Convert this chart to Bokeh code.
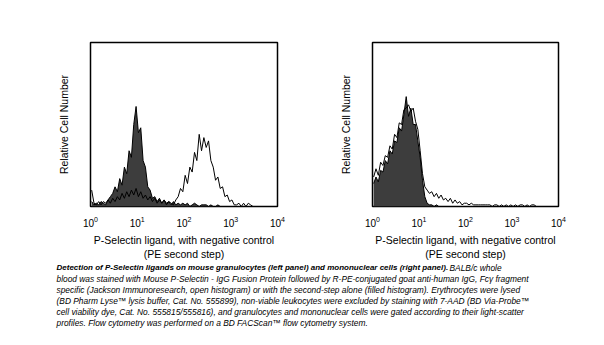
from bokeh.plotting import figure
from bokeh.layouts import column, row
from bokeh.models import Range1d, FixedTicker
from bokeh.core.properties import value
from bokeh.embed import file_html
from bokeh.resources import INLINE
import numpy as np

FONT = "Liberation Sans"

# log10 channel centres (0.05-decade bins over 10^0 .. 10^4)
log_channels = np.arange(80) * 0.05 + 0.025

# Left panel: granulocytes
left_filled = [3, 1, 2, 1, 3, 2, 1, 4, 6, 8,
               12, 9, 17, 13, 24, 20, 34, 30, 50, 61,
               45, 48, 28, 24, 12, 10, 5, 6, 3, 5,
               2, 4, 2, 3, 1, 3, 1, 2, 1, 2,
               1, 2, 0, 1, 2, 1, 0, 1, 1, 1,
               0, 1, 0, 0, 1, 0, 0, 0, 0, 0,
               0, 0, 0, 0, 0, 0, 0, 0, 0, 0,
               0, 0, 0, 0, 0, 0, 0, 0, 0, 0]
left_open = [10, 2, 1, 3, 1, 3, 2, 4, 2, 5,
             3, 6, 4, 8, 5, 9, 6, 10, 7, 11,
             6, 9, 5, 7, 4, 6, 3, 5, 2, 4,
             2, 4, 1, 3, 2, 1, 4, 6, 11, 9,
             19, 14, 24, 21, 33, 28, 44, 34, 42, 36,
             40, 28, 24, 16, 18, 11, 12, 6, 7, 3,
             4, 1, 1, 2, 0, 2, 0, 2, 1, 0,
             0, 0, 0, 0, 0, 0, 0, 0, 0, 0]

# Right panel: mononuclear cells
right_filled = [14, 18, 15, 22, 21, 28, 26, 34, 32, 40,
                39, 48, 46, 56, 67, 55, 60, 50, 50, 40,
                30, 16, 6, 2, 1, 1, 0, 1, 0, 0,
                0, 0, 0, 0, 0, 0, 0, 0, 0, 0,
                0, 0, 0, 0, 0, 0, 0, 0, 0, 0,
                0, 0, 0, 0, 0, 0, 0, 0, 0, 0,
                0, 0, 0, 0, 0, 0, 0, 0, 0, 0,
                0, 0, 0, 0, 0, 0, 0, 0, 0, 0]
right_open = [18, 23, 19, 27, 25, 31, 30, 37, 35, 44,
              42, 51, 50, 59, 60, 62, 58, 60, 52, 47,
              34, 20, 12, 10, 8, 9, 6, 8, 5, 7,
              4, 5, 3, 5, 2, 4, 2, 3, 1, 2,
              2, 1, 2, 1, 1, 1, 1, 1, 1, 1,
              1, 0, 1, 1, 0, 1, 0, 1, 0, 1,
              0, 1, 0, 1, 1, 0, 1, 0, 1, 1,
              0, 0, 0, 0, 0, 0, 0, 0, 0, 0]

tick_values = [1, 10, 100, 1000, 10000]

x_label = "P-Selectin ligand, with negative control\n(PE second step)"
y_label = "Relative Cell Number"

caption_bold = "Detection of P-Selectin ligands on mouse granulocytes (left panel) and mononuclear cells (right panel)."
caption_first_rest = "BALB/c whole"
caption_lines = [
    "blood was stained with Mouse P-Selectin - IgG Fusion Protein followed by R-PE-conjugated goat anti-human IgG, Fc\u03b3 fragment",
    "specific (Jackson Immunoresearch, open histogram) or with the second-step alone (filled histogram). Erythrocytes were lysed",
    "(BD Pharm Lyse\u2122 lysis buffer, Cat. No. 555899), non-viable leukocytes were excluded by staining with 7-AAD (BD Via-Probe\u2122",
    "cell viability dye, Cat. No. 555815/555816), and granulocytes and mononuclear cells were gated according to their light-scatter",
    "profiles. Flow cytometry was performed on a BD FACScan\u2122 flow cytometry system.",
]


def make_panel(filled, opened, border_left, border_right):
    p = figure(width=302, height=262, x_axis_type="log",
               x_range=Range1d(1, 10000), y_range=Range1d(0, 100),
               output_backend="svg", toolbar_location=None,
               min_border_left=border_left, min_border_right=border_right,
               min_border_top=42, min_border_bottom=47)
    p.grid.visible = False
    p.outline_line_color = "black"
    p.outline_line_width = 1.5
    p.background_fill_color = "white"
    p.border_fill_color = "white"
    x = 10 ** log_channels
    p.varea(x=x, y1=0, y2=filled, fill_color="#3d3d3d")
    p.line(x=x, y=filled, line_color="black", line_width=1)
    p.line(x=x, y=opened, line_color="black", line_width=1)

    xa = p.xaxis[0]
    xa.ticker = FixedTicker(ticks=tick_values)
    xa.major_tick_line_color = None
    xa.minor_tick_line_color = None
    xa.axis_line_color = None
    xa.major_label_standoff = 3
    xa.major_label_text_font = FONT
    xa.major_label_text_font_size = "10px"
    xa.major_label_text_color = "black"
    xa.axis_label = x_label
    xa.axis_label_text_font = FONT
    xa.axis_label_text_font_size = "10.5px"
    xa.axis_label_text_font_style = "normal"
    xa.axis_label_text_color = "black"
    xa.axis_label_standoff = 4

    ya = p.yaxis[0]
    ya.ticker = FixedTicker(ticks=[])
    ya.major_tick_line_color = None
    ya.minor_tick_line_color = None
    ya.axis_line_color = None
    ya.axis_label = y_label
    ya.axis_label_text_font = FONT
    ya.axis_label_text_font_size = "10.5px"
    ya.axis_label_text_font_style = "normal"
    ya.axis_label_text_color = "black"
    ya.axis_label_standoff = 21
    return p


p1 = make_panel(left_filled, left_open, 90, 25)
p2 = make_panel(right_filled, right_open, 70, 46)

cap = figure(width=604, height=83, x_range=Range1d(0, 604), y_range=Range1d(83, 0),
             output_backend="svg", toolbar_location=None,
             min_border=0)
cap.axis.visible = False
cap.grid.visible = False
cap.outline_line_color = None
cap.text(x=[56], y=[5], text=[caption_bold], text_font=value(FONT),
         text_font_size="8px", text_font_style="bold italic", text_baseline="middle",
         text_color="black")
cap.text(x=[449], y=[5], text=[caption_first_rest], text_font=value(FONT),
         text_font_size="8.4px", text_font_style="italic", text_baseline="middle",
         text_color="black")
cap.text(x=[56] * len(caption_lines), y=[16 + 11 * i for i in range(len(caption_lines))],
         text=caption_lines, text_font=value(FONT),
         text_font_size="8.4px", text_font_style="italic", text_baseline="middle",
         text_color="black")

layout = column(row(p1, p2, spacing=0), cap, spacing=0)
open("out.html", "w").write(file_html(layout, INLINE))
